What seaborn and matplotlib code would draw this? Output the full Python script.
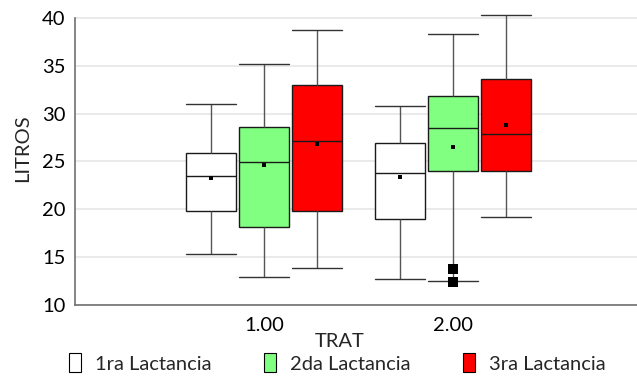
import numpy as np
import pandas as pd
import seaborn as sns
import matplotlib
matplotlib.use("Agg")
import matplotlib.pyplot as plt
from matplotlib.patches import Patch

# ---- data (five-number summaries) ----
trat = ["1.00", "2.00"]
lact = ["1ra Lactancia", "2da Lactancia", "3ra Lactancia"]
# order per box: [min whisker, Q1, median, Q3, max whisker]
t1_1ra = [15.3, 19.8, 23.5, 25.9, 31.0]
t1_2da = [12.9, 18.2, 24.9, 28.6, 35.2]
t1_3ra = [13.9, 19.8, 27.1, 33.0, 38.7]
t2_1ra = [12.7, 19.0, 23.8, 26.9, 30.8]
t2_2da = [12.5, 24.0, 28.5, 31.8, 38.3]
t2_3ra = [19.2, 24.0, 27.9, 33.6, 40.3]
means_t1 = [23.25, 24.6, 26.8]
means_t2 = [23.4, 26.5, 28.85]
outliers_t2_2da = [13.8, 12.4]
colors = ["#ffffff", "#80ff80", "#ff0000"]

rows = []
for t, boxes in zip(trat, [[t1_1ra, t1_2da, t1_3ra], [t2_1ra, t2_2da, t2_3ra]]):
    for l, vals in zip(lact, boxes):
        for v in vals:
            rows.append({"TRAT": t, "Lact": l, "LITROS": v})
df = pd.DataFrame(rows)

sns.set_style("white")
plt.rcParams["font.family"] = ["Lato", "DejaVu Sans"]

fig = plt.figure(figsize=(6.37, 3.83), dpi=100)
ax = fig.add_axes([0.1177, 0.2037, 0.8823, 0.7619])

WIDTH = 0.84
GAP = 0.05
sns.boxplot(data=df, x="TRAT", y="LITROS", hue="Lact", order=trat, hue_order=lact,
            palette=colors, whis=(0, 100), width=WIDTH, gap=GAP, dodge=True,
            saturation=1, linewidth=1, linecolor="#1a1a1a", ax=ax, legend=False,
            zorder=3)

n = len(lact)
each = WIDTH / n
boxw = each * (1 - GAP)
offsets = (np.arange(n) - (n - 1) / 2) * each

# whiskers gray; caps extended to full box width
for line in ax.lines:
    xd = np.asarray(line.get_xdata(), dtype=float)
    yd = np.asarray(line.get_ydata(), dtype=float)
    if len(xd) == 2 and xd[0] == xd[1]:
        line.set_color("#555555")
        line.set_linewidth(1.0)
    elif len(xd) == 2 and yd[0] == yd[1]:
        w = abs(xd[1] - xd[0])
        if w < 0.9 * boxw:
            c = xd.mean()
            line.set_xdata([c - boxw / 2, c + boxw / 2])
            line.set_color("#333333")
            line.set_linewidth(1.0)
        else:
            line.set_color("#1a1a1a")
            line.set_linewidth(1.0)

for i, means in enumerate([means_t1, means_t2]):
    ax.scatter(i + offsets, means, marker="s", s=10, color="black", zorder=5, linewidths=0)
ax.scatter([1 + offsets[1]] * len(outliers_t2_2da), outliers_t2_2da, marker="s", s=50,
           color="black", zorder=5, linewidths=0)

ax.set_ylim(10, 40.5)
ax.set_xlim(-1, 1.974)
ax.set_yticks([10, 15, 20, 25, 30, 35, 40])
ax.yaxis.grid(True, color="#e6e6e6", linewidth=1.2, zorder=0)
ax.set_axisbelow(True)
for s in ["top", "right"]:
    ax.spines[s].set_visible(False)
ax.spines["left"].set_bounds(10, 40)
ax.spines["left"].set_color("#707070")
ax.spines["bottom"].set_color("#707070")
ax.spines["left"].set_linewidth(1.2)
ax.spines["bottom"].set_linewidth(1.2)
FS = 14.5
ax.tick_params(axis="both", labelsize=FS, colors="#707070", labelcolor="black",
               length=4, width=1, direction="out")
ax.tick_params(axis="y", pad=3)
ax.tick_params(axis="x", pad=5)
ax.set_xlabel("TRAT", fontsize=FS)
ax.set_ylabel("LITROS", fontsize=FS)
ax.xaxis.set_label_coords(0.4715, -0.097)
ax.yaxis.set_label_coords(-0.078, 0.538)

handles = [Patch(facecolor=c, edgecolor="black", linewidth=0.8) for c in colors]
fig.legend(handles, lact, loc="lower center", bbox_to_anchor=(0.53, -0.02), ncol=3,
           frameon=False, fontsize=FS, handlelength=0.6, handleheight=1.1,
           handletextpad=0.7, columnspacing=2.6)

fig.savefig("out.png", dpi=100)
